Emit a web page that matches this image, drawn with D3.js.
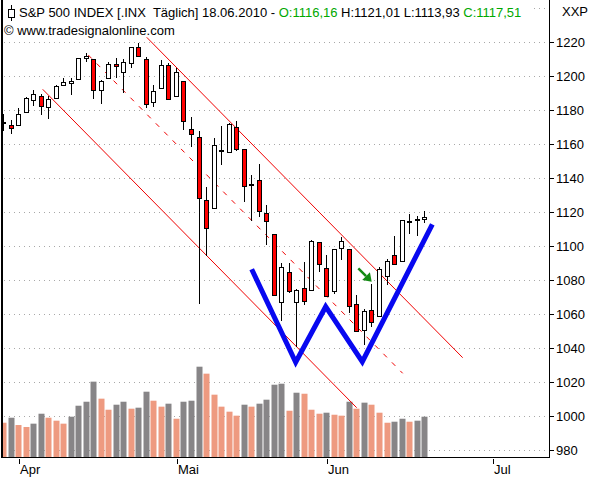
<!DOCTYPE html>
<html><head><meta charset="utf-8">
<script src="https://cdn.jsdelivr.net/npm/d3@7/dist/d3.min.js"></script>
<style>
body{margin:0;background:#fff}
svg{display:block}
text{font-family:"Liberation Sans",Arial,sans-serif;white-space:pre}
</style>
</head><body>
<svg id="c" width="595" height="480"></svg>
<script>
// ---------- DATA ----------
const dates = ["2010-03-30","2010-03-31","2010-04-01","2010-04-05","2010-04-06","2010-04-07","2010-04-08","2010-04-09",
"2010-04-12","2010-04-13","2010-04-14","2010-04-15","2010-04-16","2010-04-19","2010-04-20","2010-04-21","2010-04-22","2010-04-23",
"2010-04-26","2010-04-27","2010-04-28","2010-04-29","2010-04-30","2010-05-03","2010-05-04","2010-05-05","2010-05-06","2010-05-07",
"2010-05-10","2010-05-11","2010-05-12","2010-05-13","2010-05-14","2010-05-17","2010-05-18","2010-05-19","2010-05-20","2010-05-21",
"2010-05-24","2010-05-25","2010-05-26","2010-05-27","2010-05-28","2010-06-01","2010-06-02","2010-06-03","2010-06-04",
"2010-06-07","2010-06-08","2010-06-09","2010-06-10","2010-06-11","2010-06-14","2010-06-15","2010-06-16","2010-06-17","2010-06-18"];
const openP  = [1173.22,1171.40,1171.23,1178.71,1186.01,1188.23,1181.75,1187.47,1194.94,1195.94,1198.69,1210.77,1210.17,1192.06,1199.04,1207.16,1202.52,1207.87,
1217.07,1209.92,1184.59,1193.30,1206.77,1188.58,1197.50,1169.24,1164.38,1127.04,1122.27,1156.39,1155.43,1170.04,1157.19,1136.52,1138.78,1119.57,1107.34,1067.26,
1084.78,1067.42,1075.51,1074.27,1102.59,1087.30,1073.89,1098.82,1098.43,1065.84,1050.81,1062.75,1058.77,1082.65,1095.00,1091.21,1114.02,1115.98,1116.16];
const highP  = [1177.60,1174.00,1181.43,1187.73,1191.80,1189.60,1188.55,1194.66,1199.20,1199.04,1210.65,1213.92,1210.17,1197.87,1208.58,1210.99,1210.27,1217.28,
1219.80,1211.38,1195.05,1209.36,1207.99,1205.13,1197.50,1175.95,1167.58,1135.13,1163.85,1170.48,1172.58,1173.57,1157.19,1141.88,1148.66,1124.27,1107.34,1090.16,
1089.95,1074.75,1090.75,1103.52,1102.59,1094.77,1098.56,1105.67,1098.43,1071.36,1063.15,1077.74,1087.85,1092.25,1105.91,1115.59,1118.74,1117.72,1121.01];
const lowP   = [1168.00,1165.80,1170.69,1178.71,1182.77,1177.25,1175.12,1187.15,1194.71,1188.82,1198.69,1208.50,1186.77,1183.68,1199.04,1198.85,1190.19,1205.10,
1211.07,1181.62,1181.81,1193.30,1186.32,1188.58,1168.12,1158.15,1065.79,1094.15,1122.27,1147.71,1155.43,1156.14,1126.14,1114.96,1117.20,1100.66,1071.58,1055.90,
1072.70,1040.78,1065.59,1074.27,1084.78,1069.89,1072.03,1091.81,1060.50,1049.86,1042.17,1052.25,1058.77,1077.12,1089.03,1091.21,1107.13,1105.87,1113.93];
const closeP = [1173.27,1169.43,1178.10,1187.44,1189.44,1182.45,1186.44,1194.37,1196.48,1197.30,1210.65,1211.67,1192.13,1197.52,1207.17,1205.94,1208.67,1217.28,
1212.05,1183.71,1191.36,1206.78,1186.69,1202.26,1173.60,1165.87,1128.15,1110.88,1159.73,1155.79,1171.67,1157.44,1135.68,1136.94,1120.80,1115.05,1071.59,1087.69,
1073.65,1074.03,1067.95,1103.06,1089.41,1070.71,1098.38,1102.83,1064.88,1050.47,1062.00,1055.69,1086.84,1091.60,1089.63,1115.23,1114.61,1116.04,1117.51];
// volume, billions of shares
const volume = [4.03,4.62,3.76,3.53,3.92,5.09,4.62,4.27,3.92,4.74,6.03,6.50,8.86,6.86,5.56,6.15,6.50,5.68,5.80,7.68,6.62,5.92,6.27,4.50,6.50,6.62,10.62,9.80,
7.33,5.92,5.33,4.86,6.15,5.92,6.27,6.74,8.50,8.62,5.44,7.56,7.44,5.56,5.09,5.21,4.97,4.86,6.50,5.68,6.39,6.15,5.21,4.03,4.15,4.50,4.15,4.27,4.74];

const priceTicks = [980,1000,1020,1040,1060,1080,1100,1120,1140,1160,1180,1200,1220];
const gridTicks  = [980,1000,1020,1040,1060,1080,1100,1120,1140,1160,1180,1200,1220,1240];
const monthLabels = ["Apr","Mai","Jun","Jul"];
const monthStarts = ["2010-04-01","2010-05-03","2010-06-01","2010-07-01"];

// drawn studies, anchored at (bar position, price)
const channelUpper = [[19.11,1222.94],[61.13,1034.47]];
const channelMid   = [[11.34,1212.53],[53.15,1025.29]];
const channelLower = [[5.28,1192.35],[47.03,1005.06]];
const wPattern = [[33.07,1086.47],[38.92,1031.76],[42.91,1064.47],[47.78,1032.12],[57.09,1112.94]];
const arrowPts = [[47.25,1087.06],[49.03,1079.18]];

const title = "S&P 500 INDEX [.INX  Täglich] 18.06.2010 - ";
const copyright = "© www.tradesignalonline.com";
const axisName = "XXP";

// ---------- CHART ----------
const svg = d3.select("#c");
const plotL = 2, plotR = 549, plotB = 457;

// trading calendar extended with weekdays for axis positions beyond data
const fmtD = d3.utcFormat("%Y-%m-%d"), parseD = d3.utcParse("%Y-%m-%d");
const cal = dates.slice();
let dd = parseD(dates[dates.length-1]);
while (cal.length < 80) { dd = d3.utcDay.offset(dd,1); const wd = dd.getUTCDay(); if (wd!==0 && wd!==6) cal.push(fmtD(dd)); }

const x = d3.scaleLinear().domain([0, dates.length-1]).range([3, 424.12]);
const y = d3.scaleLinear().domain([980, 1220]).range([450.3, 42.3]);
const yv = d3.scaleLinear().domain([0, 11.76]).range([plotB, plotB-100]);

svg.append("rect").attr("width",595).attr("height",480).attr("fill","#fff");
svg.append("defs").append("clipPath").attr("id","clip")
  .append("rect").attr("x",plotL+1).attr("y",0).attr("width",plotR-plotL-1).attr("height",plotB);

// grid
svg.append("g").selectAll("line").data(gridTicks).join("line")
  .attr("x1",plotL+2).attr("x2",plotR)
  .attr("y1",d=>Math.round(y(d))+0.5).attr("y2",d=>Math.round(y(d))+0.5)
  .attr("stroke","#a8a8a8").attr("stroke-dasharray","1,4").attr("shape-rendering","crispEdges");

const plot = svg.append("g").attr("clip-path","url(#clip)");

// volume
const idxs = d3.range(dates.length);
plot.append("g").selectAll("rect").data(idxs).join("rect")
  .attr("x", i => Math.round(x(i)) - 2.5)
  .attr("width", 6)
  .attr("y", i => yv(volume[i]))
  .attr("height", i => plotB - yv(volume[i]))
  .attr("fill", i => (i>0 && volume[i] >= volume[i-1]) ? "#878587" : "#ee9a80");

// channel lines
const ln = d3.line().x(p=>x(p[0])).y(p=>y(p[1]));
plot.append("path").attr("d",ln(channelUpper)).attr("fill","none").attr("stroke","#f00000").attr("stroke-width",1);
plot.append("path").attr("d",ln(channelLower)).attr("fill","none").attr("stroke","#f00000").attr("stroke-width",1);
plot.append("path").attr("d",ln(channelMid)).attr("fill","none").attr("stroke","#f00000").attr("stroke-width",1).attr("stroke-dasharray","5,7");

// candles
const cg = plot.append("g");
cg.selectAll("line").data(idxs).join("line")
  .attr("x1", i => Math.round(x(i))+0.5).attr("x2", i => Math.round(x(i))+0.5)
  .attr("y1", i => Math.round(y(highP[i]))).attr("y2", i => Math.round(y(lowP[i])))
  .attr("stroke","#000").attr("shape-rendering","crispEdges");
cg.selectAll("rect").data(idxs).join("rect")
  .attr("x", i => Math.round(x(i)) - 1.5)
  .attr("width", 4)
  .attr("y", i => Math.round(y(Math.max(openP[i],closeP[i]))) + 0.5)
  .attr("height", i => Math.max(1, Math.round(y(Math.min(openP[i],closeP[i]))) - Math.round(y(Math.max(openP[i],closeP[i])))))
  .attr("fill", i => closeP[i] < openP[i] ? "#ff0000" : "#ffffff")
  .attr("stroke","#000").attr("shape-rendering","crispEdges");

// W pattern
plot.append("path").attr("d",ln(wPattern)).attr("fill","none").attr("stroke","#0808f0")
  .attr("stroke-width",5).attr("stroke-linejoin","miter");

// arrow
const ax0 = x(arrowPts[0][0]), ay0 = y(arrowPts[0][1]), ax1 = x(arrowPts[1][0]), ay1 = y(arrowPts[1][1]);
const ang = Math.atan2(ay1-ay0, ax1-ax0), hl = 8, hw = 5.5;
const bx = ax1 - hl*Math.cos(ang), by = ay1 - hl*Math.sin(ang);
plot.append("line").attr("x1",ax0).attr("y1",ay0).attr("x2",bx).attr("y2",by)
  .attr("stroke","#138a13").attr("stroke-width",2.5);
plot.append("path").attr("fill","#138a13").attr("d",
  `M${ax1},${ay1}L${bx + hw*Math.sin(ang)},${by - hw*Math.cos(ang)}L${bx - hw*Math.sin(ang)},${by + hw*Math.cos(ang)}Z`);

// frame
svg.append("line").attr("x1",plotR+0.5).attr("x2",plotR+0.5).attr("y1",0).attr("y2",plotB+1).attr("stroke","#000");
svg.append("line").attr("x1",plotL).attr("x2",plotR+1).attr("y1",plotB+0.5).attr("y2",plotB+0.5).attr("stroke","#000");
svg.append("line").attr("x1",plotL).attr("x2",plotL).attr("y1",0).attr("y2",plotB+1).attr("stroke","#000").attr("stroke-width",2);

// y axis (right)
const ya = svg.append("g");
ya.selectAll("line").data(priceTicks).join("line")
  .attr("x1",plotR+1).attr("x2",plotR+5)
  .attr("y1",d=>Math.round(y(d))+0.5).attr("y2",d=>Math.round(y(d))+0.5).attr("stroke","#000");
ya.selectAll("text").data(priceTicks).join("text")
  .attr("x",plotR+7).attr("y",d=>y(d)).attr("dy","0.36em")
  .attr("font-size",13).attr("fill","#000").text(d=>d);
svg.append("text").attr("x",562).attr("y",16).attr("font-size",13).text(axisName);

// x axis
const xa = svg.append("g");
const mIdx = monthStarts.map(s => cal.indexOf(s));
xa.selectAll("line").data(mIdx).join("line")
  .attr("x1",i=>Math.round(x(i))+1.5).attr("x2",i=>Math.round(x(i))+1.5)
  .attr("y1",plotB+2).attr("y2",plotB+7).attr("stroke","#000");
xa.selectAll("text").data(mIdx).join("text")
  .attr("x",i=>Math.round(x(i))+2).attr("y",474).attr("font-size",13).text((i,k)=>monthLabels[k]);

// header
const last = dates.length-1;
const fmtN = v => v.toFixed(2).replace(".",",");
svg.append("rect").attr("x",plotL+1).attr("y",0).attr("width",528).attr("height",21).attr("fill","#fff");
const ic = svg.append("g");
ic.append("line").attr("x1",11.5).attr("x2",11.5).attr("y1",5).attr("y2",21).attr("stroke","#000");
ic.append("rect").attr("x",8.5).attr("y",9.5).attr("width",6).attr("height",8).attr("fill","#fff").attr("stroke","#000");
const t = svg.append("text").attr("x",19).attr("y",17).attr("font-size",13).attr("fill","#000");
t.append("tspan").text(title);
t.append("tspan").attr("fill","#00a800").text("O:"+fmtN(openP[last]));
t.append("tspan").text(" H:"+fmtN(highP[last])+" L:"+fmtN(lowP[last])+" ");
t.append("tspan").attr("fill","#00a800").text("C:"+fmtN(closeP[last]));
svg.append("text").attr("x",4).attr("y",35).attr("font-size",13).text(copyright);
</script>
</body></html>
